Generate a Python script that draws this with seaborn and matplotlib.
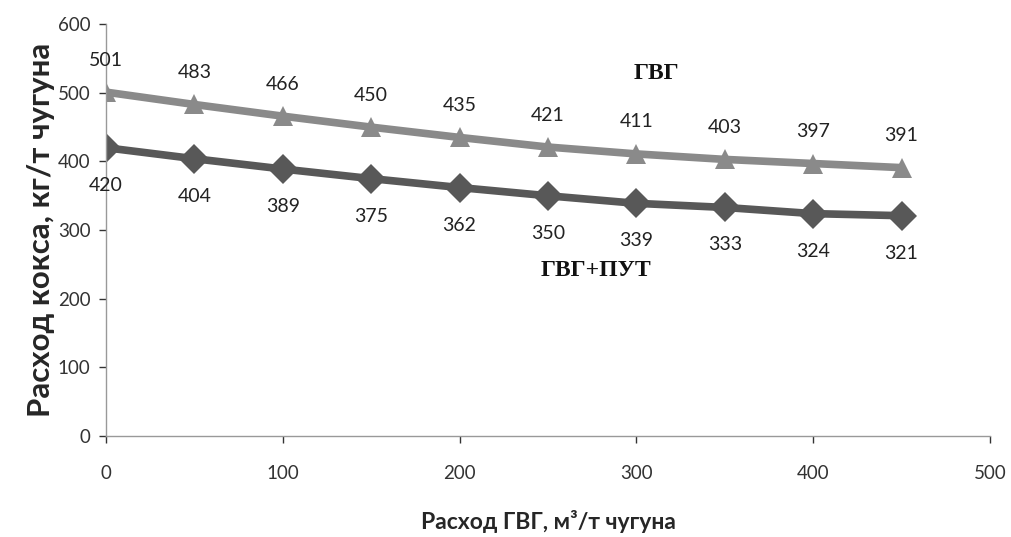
import matplotlib
matplotlib.use("Agg")
import matplotlib.pyplot as plt
import seaborn as sns
import pandas as pd

x_vals = [0, 50, 100, 150, 200, 250, 300, 350, 400, 450]
gvg = [501, 483, 466, 450, 435, 421, 411, 403, 397, 391]
gvg_put = [420, 404, 389, 375, 362, 350, 339, 333, 324, 321]
series_names = ["ГВГ", "ГВГ+ПУТ"]
x_ticks = [0, 100, 200, 300, 400, 500]
y_ticks = [0, 100, 200, 300, 400, 500, 600]

sns.set_theme(style="white")
plt.rcParams['font.family'] = ['Lato', 'DejaVu Sans']

df = pd.DataFrame({
    "x": x_vals * 2,
    "y": gvg + gvg_put,
    "s": [series_names[0]] * len(x_vals) + [series_names[1]] * len(x_vals),
})

fig = plt.figure(figsize=(10.12, 5.37), dpi=100)
ax = fig.add_axes([0.1047, 0.188, 0.8735, 0.767])

colors = {series_names[0]: "#8a8a8a", series_names[1]: "#585858"}
markers = {series_names[0]: "^", series_names[1]: "D"}
sns.lineplot(data=df, x="x", y="y", hue="s", style="s", palette=colors,
             markers=markers, dashes=False, markersize=15, linewidth=5.5,
             markeredgewidth=0, legend=False, ax=ax)

for xv, yv in zip(x_vals, gvg):
    ax.annotate(str(yv), (xv, yv), xytext=(0, 23), textcoords="offset points",
                ha="center", va="center", fontsize=14, color="#222222")
for xv, yv in zip(x_vals, gvg_put):
    ax.annotate(str(yv), (xv, yv), xytext=(0, -27), textcoords="offset points",
                ha="center", va="center", fontsize=14, color="#222222")

ax.text(0.649, 0.863, series_names[0], transform=fig.transFigure, ha="center", va="center",
        fontsize=17, fontweight="bold", family="Liberation Serif", color="#111111")
ax.text(0.589, 0.497, series_names[1], transform=fig.transFigure, ha="center", va="center",
        fontsize=17, fontweight="bold", family="Liberation Serif", color="#111111")

ax.set_xlim(0, 500)
ax.set_ylim(0, 600)
ax.set_xticks(x_ticks)
ax.set_yticks(y_ticks)
ax.tick_params(axis="both", labelsize=13.5, colors="#333333", length=5, width=1, direction="out",
               bottom=True, left=True)
ax.tick_params(axis="y", pad=6)
ax.tick_params(axis="x", pad=16)
for side in ["top", "right"]:
    ax.spines[side].set_visible(False)
for side in ["left", "bottom"]:
    ax.spines[side].set_color("#999999")
    ax.spines[side].set_linewidth(1)

ax.set_xlabel("Расход ГВГ, м³/т чугуна", fontsize=16.5, fontweight="bold", labelpad=20)
ax.set_ylabel("Расход кокса, кг/т чугуна", fontsize=22.5, fontweight="bold", labelpad=2)

fig.savefig("out.png", dpi=100, facecolor="white")
